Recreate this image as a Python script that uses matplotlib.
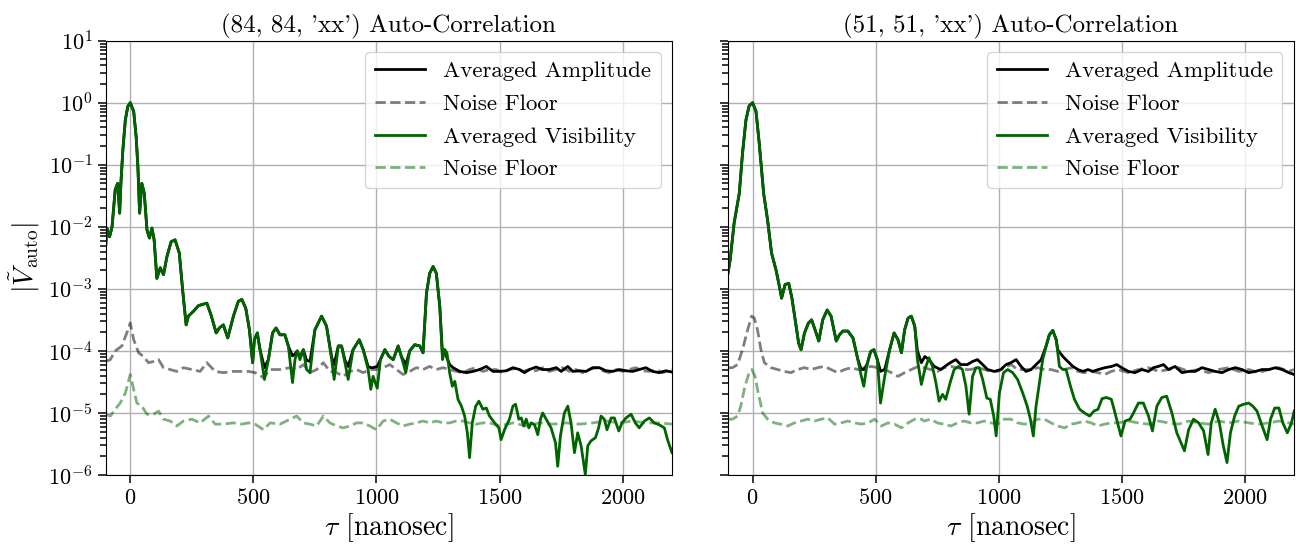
import numpy as np
import matplotlib
matplotlib.use("Agg")
import matplotlib.pyplot as plt
from matplotlib.ticker import FixedLocator, NullFormatter

plt.rcParams['font.family'] = 'cmr10'
plt.rcParams['mathtext.fontset'] = 'cm'
plt.rcParams['axes.formatter.use_mathtext'] = True

# ---- (84, 84, 'xx') : values stored as log10 of |V|
vis_l_tau = np.array([-100, -95, -84, -74, -61, -51, -43, -38, -30, -20, -10, 0, 14, 24, 31, 38, 47, 57, 68, 78,
                      88, 97, 108, 122, 135, 149, 166, 182, 199, 214, 227, 236, 257, 277, 311, 328, 349, 362, 378, 396,
                      419, 439, 453, 469, 484, 497, 504, 516, 527, 545, 561, 578, 592, 608, 628, 642, 659, 669, 678, 689,
                      703, 716, 730, 750, 777, 797, 818, 828, 845, 858, 872, 885, 905, 930, 946, 966, 977, 986, 1003, 1016,
                      1034, 1051, 1068, 1088, 1101, 1119, 1135, 1155, 1176, 1189, 1203, 1216, 1230, 1243, 1257, 1268, 1277, 1286, 1297, 1308,
                      1318, 1331, 1345, 1358, 1369, 1378, 1389, 1403, 1416, 1432, 1446, 1459, 1480, 1497, 1506, 1520, 1540, 1554, 1565, 1578,
                      1588, 1598, 1608, 1619, 1628, 1642, 1655, 1666, 1675, 1689, 1709, 1727, 1736, 1747, 1763, 1777, 1790, 1804, 1817, 1831,
                      1848, 1858, 1871, 1889, 1902, 1912, 1925, 1936, 1953, 1966, 1984, 1997, 2013, 2034, 2051, 2067, 2088, 2108, 2128, 2148,
                      2169, 2182, 2200])
vis_l_log = np.array([-2.32, -2.02, -2.16, -2.0, -1.40, -1.30, -1.78, -1.30, -0.76, -0.28, -0.06, 0.0, -0.14, -0.55, -1.03, -1.78, -1.30, -1.46, -2.05, -2.18,
                      -2.02, -2.21, -2.83, -2.66, -2.77, -2.48, -2.24, -2.21, -2.42, -3.07, -3.58, -3.44, -3.36, -3.27, -3.23, -3.42, -3.71, -3.63, -3.58, -3.79,
                      -3.44, -3.20, -3.17, -3.31, -3.66, -4.19, -3.82, -3.71, -3.98, -4.46, -4.14, -3.71, -3.63, -3.74, -3.74, -3.92, -4.51, -4.14, -4.0, -4.14,
                      -3.98, -4.30, -4.35, -3.66, -3.44, -3.60, -4.14, -4.46, -3.92, -3.92, -4.19, -4.46, -3.98, -3.82, -3.98, -4.30, -4.62, -4.41, -4.60, -4.14,
                      -3.98, -4.09, -4.14, -3.92, -4.09, -4.35, -4.0, -3.90, -3.92, -4.03, -3.07, -2.75, -2.64, -2.75, -3.28, -4.14, -3.98, -4.03, -4.35, -4.57,
                      -4.49, -4.78, -4.89, -5.05, -5.32, -5.72, -5.16, -4.89, -4.81, -4.94, -4.92, -5.05, -5.16, -5.24, -5.43, -5.27, -5.10, -4.89, -4.86, -5.10,
                      -5.08, -5.21, -5.10, -5.24, -5.16, -5.19, -5.35, -5.10, -5.0, -5.10, -5.24, -5.48, -5.86, -5.37, -5.0, -4.89, -5.16, -5.64, -5.32, -5.53,
                      -5.99, -5.53, -5.45, -5.40, -5.24, -5.05, -5.10, -5.27, -5.08, -5.08, -5.29, -5.16, -5.08, -5.02, -5.16, -5.24, -5.13, -5.08, -5.16, -5.19,
                      -5.24, -5.43, -5.64])

amp_l_tail_tau = np.array([545, 561, 578, 592, 608, 628, 642, 659, 669, 678, 689, 703, 716, 730, 750, 777, 797, 818, 828, 845,
                           858, 872, 885, 905, 930, 946, 966, 977, 986, 1003, 1016, 1034, 1051, 1068, 1088, 1101, 1119, 1135, 1155, 1176,
                           1189, 1203, 1216, 1230, 1243, 1257, 1268, 1277, 1284, 1297, 1311, 1338, 1365, 1392, 1419, 1446, 1473, 1500, 1527, 1554,
                           1581, 1601, 1621, 1648, 1675, 1702, 1730, 1750, 1777, 1797, 1824, 1851, 1878, 1905, 1932, 1959, 1986, 2013, 2040, 2067,
                           2094, 2121, 2148, 2175, 2200])
amp_l_tail_log = np.array([-4.27, -4.14, -3.71, -3.63, -3.74, -3.74, -3.92, -4.08, -4.05, -4.0, -4.10, -3.98, -4.15, -4.17, -3.66, -3.44, -3.60, -4.10, -4.22, -3.92,
                           -3.92, -4.15, -4.25, -3.98, -3.82, -3.98, -4.25, -4.27, -4.27, -4.25, -4.14, -3.98, -4.09, -4.14, -3.92, -4.09, -4.22, -4.0, -3.90, -3.92,
                           -4.03, -3.07, -2.75, -2.64, -2.75, -3.28, -4.05, -3.98, -4.09, -4.22, -4.27, -4.33, -4.35, -4.33, -4.30, -4.25, -4.33, -4.33, -4.32, -4.27,
                           -4.30, -4.35, -4.30, -4.26, -4.30, -4.30, -4.27, -4.33, -4.25, -4.33, -4.32, -4.33, -4.27, -4.27, -4.32, -4.33, -4.30, -4.32, -4.33, -4.30,
                           -4.27, -4.33, -4.35, -4.32, -4.34])

noise_amp_l_tau = np.array([-100, -81, -61, -34, -14, 0, 14, 34, 54, 74, 95, 115, 135, 162, 189, 216, 250, 284, 311, 345,
                            378, 419, 453, 480, 507, 541, 568, 608, 649, 676, 703, 730, 757, 784, 811, 838, 865, 892, 919, 946,
                            973, 1000, 1027, 1054, 1081, 1108, 1135, 1162, 1189, 1216, 1243, 1270, 1297, 1324, 1351, 1378, 1405, 1432, 1459, 1486,
                            1513, 1540, 1567, 1594, 1621, 1648, 1675, 1702, 1729, 1756, 1783, 1810, 1837, 1864, 1891, 1918, 1945, 1972, 1999, 2026,
                            2053, 2080, 2107, 2134, 2161, 2188, 2200])
noise_amp_l_log = np.array([-4.17, -4.14, -4.0, -3.92, -3.71, -3.55, -3.82, -4.03, -4.09, -4.19, -4.17, -4.14, -4.27, -4.30, -4.33, -4.27, -4.30, -4.33, -4.19, -4.33,
                            -4.35, -4.33, -4.33, -4.33, -4.35, -4.43, -4.30, -4.30, -4.27, -4.30, -4.22, -4.35, -4.30, -4.19, -4.33, -4.35, -4.41, -4.33, -4.30, -4.35,
                            -4.30, -4.30, -4.27, -4.22, -4.30, -4.38, -4.33, -4.27, -4.30, -4.25, -4.30, -4.27, -4.30, -4.33, -4.35, -4.30, -4.27, -4.33, -4.30, -4.30,
                            -4.35, -4.30, -4.28, -4.33, -4.30, -4.32, -4.27, -4.33, -4.30, -4.27, -4.33, -4.30, -4.35, -4.30, -4.27, -4.32, -4.35, -4.30, -4.33, -4.30,
                            -4.27, -4.32, -4.33, -4.30, -4.35, -4.32, -4.30])

noise_vis_l_tau = np.array([-100, -81, -61, -41, -20, 0, 14, 27, 47, 68, 95, 115, 135, 162, 189, 216, 250, 284, 318, 345,
                            378, 419, 453, 480, 507, 541, 568, 608, 649, 676, 703, 730, 757, 784, 811, 838, 865, 892, 919, 946,
                            973, 1000, 1027, 1054, 1081, 1108, 1135, 1162, 1189, 1216, 1243, 1270, 1297, 1324, 1351, 1378, 1405, 1432, 1459, 1500,
                            1554, 1608, 1662, 1716, 1770, 1824, 1878, 1932, 1986, 2040, 2094, 2148, 2200])
noise_vis_l_log = np.array([-5.02, -5.05, -4.94, -4.84, -4.68, -4.38, -4.62, -4.84, -4.89, -5.02, -5.02, -4.97, -5.10, -5.13, -5.21, -5.13, -5.10, -5.16, -5.05, -5.18,
                            -5.18, -5.16, -5.18, -5.16, -5.18, -5.27, -5.16, -5.18, -5.10, -5.05, -5.16, -5.18, -5.21, -5.05, -5.16, -5.21, -5.24, -5.21, -5.16, -5.16,
                            -5.21, -5.27, -5.13, -5.10, -5.16, -5.21, -5.18, -5.16, -5.13, -5.16, -5.13, -5.16, -5.16, -5.13, -5.13, -5.16, -5.18, -5.16, -5.16, -5.21,
                            -5.16, -5.21, -5.16, -5.18, -5.16, -5.18, -5.16, -5.13, -5.16, -5.13, -5.16, -5.16, -5.18])

# ---- (51, 51, 'xx')
vis_r_tau = np.array([-100, -91, -75, -54, -41, -27, -14, 0, 14, 27, 45, 61, 77, 95, 109, 118, 132, 147, 160, 177,
                      187, 197, 211, 227, 240, 254, 269, 285, 303, 319, 340, 353, 367, 387, 408, 428, 442, 452, 465, 480,
                      493, 507, 520, 537, 557, 575, 591, 605, 618, 632, 645, 659, 670, 686, 700, 717, 731, 745, 758, 772,
                      785, 803, 819, 837, 853, 867, 880, 894, 908, 921, 935, 952, 966, 980, 990, 1003, 1020, 1037, 1057, 1077,
                      1098, 1116, 1129, 1141, 1152, 1166, 1179, 1193, 1206, 1220, 1234, 1247, 1261, 1274, 1292, 1308, 1329, 1349, 1370, 1387,
                      1404, 1420, 1438, 1458, 1473, 1497, 1514, 1534, 1548, 1568, 1588, 1609, 1625, 1643, 1663, 1683, 1704, 1724, 1755, 1772,
                      1792, 1813, 1833, 1851, 1864, 1880, 1897, 1912, 1928, 1942, 1959, 1976, 1996, 2016, 2033, 2050, 2071, 2091, 2105, 2122,
                      2139, 2155, 2173, 2190, 2201])
vis_r_log = np.array([-2.75, -2.53, -1.94, -1.46, -0.82, -0.28, -0.05, 0.0, -0.14, -0.65, -1.46, -1.89, -2.42, -2.69, -2.96, -3.15, -2.93, -2.91, -3.15, -3.60,
                      -3.87, -3.98, -3.71, -3.55, -3.50, -3.66, -3.84, -3.50, -3.34, -3.44, -3.84, -3.74, -3.68, -3.68, -3.79, -4.14, -4.41, -4.57, -4.22, -4.01,
                      -3.98, -4.14, -4.84, -4.41, -3.98, -3.71, -3.82, -4.03, -3.66, -3.47, -3.44, -3.60, -4.14, -4.54, -4.30, -4.11, -4.25, -4.51, -4.81, -4.70,
                      -4.78, -4.51, -4.30, -4.25, -4.30, -4.57, -5.02, -4.41, -4.27, -4.27, -4.46, -4.76, -4.78, -5.05, -5.37, -4.68, -4.35, -4.30, -4.35, -4.46,
                      -4.68, -4.89, -5.10, -5.37, -4.89, -4.51, -4.14, -3.92, -3.74, -3.67, -3.82, -4.25, -4.30, -4.30, -4.57, -4.78, -4.94, -5.0, -5.05, -4.97,
                      -4.94, -4.77, -4.75, -4.78, -5.0, -5.37, -5.13, -5.10, -5.0, -4.84, -4.84, -5.05, -5.29, -4.89, -4.75, -4.73, -5.0, -5.32, -5.61, -5.27,
                      -5.10, -5.16, -5.29, -5.67, -5.16, -4.94, -5.16, -5.51, -5.80, -5.32, -5.05, -4.89, -4.86, -4.84, -4.89, -4.97, -5.21, -5.43, -5.10, -4.92,
                      -4.92, -5.16, -5.32, -5.16, -4.97])

amp_r_tail_tau = np.array([428, 442, 452, 465, 480, 493, 507, 520, 537, 557, 575, 591, 605, 618, 632, 645, 659, 670, 686, 700,
                           717, 738, 765, 792, 812, 826, 846, 873, 894, 914, 935, 955, 982, 1009, 1030, 1050, 1071, 1091, 1111, 1132,
                           1152, 1173, 1193, 1206, 1220, 1234, 1240, 1261, 1281, 1302, 1322, 1343, 1363, 1383, 1405, 1432, 1459, 1480, 1500, 1527,
                           1554, 1582, 1609, 1629, 1649, 1670, 1690, 1717, 1745, 1772, 1799, 1826, 1853, 1880, 1908, 1935, 1962, 1989, 2016, 2044,
                           2071, 2098, 2125, 2152, 2179, 2201])
amp_r_tail_log = np.array([-4.14, -4.30, -4.30, -4.22, -4.01, -3.98, -4.14, -4.33, -4.30, -3.98, -3.71, -3.82, -4.03, -3.66, -3.47, -3.44, -3.60, -4.0, -4.19, -4.09,
                           -4.14, -4.25, -4.30, -4.22, -4.17, -4.14, -4.22, -4.22, -4.17, -4.14, -4.22, -4.30, -4.33, -4.30, -4.22, -4.19, -4.14, -4.25, -4.33, -4.30,
                           -4.22, -4.14, -3.92, -3.74, -3.67, -3.82, -3.98, -4.09, -4.17, -4.25, -4.30, -4.33, -4.30, -4.33, -4.30, -4.27, -4.25, -4.22, -4.27, -4.33,
                           -4.35, -4.30, -4.33, -4.27, -4.25, -4.22, -4.30, -4.25, -4.35, -4.33, -4.33, -4.27, -4.30, -4.33, -4.35, -4.30, -4.27, -4.30, -4.35, -4.33,
                           -4.30, -4.30, -4.27, -4.30, -4.35, -4.38])

noise_amp_r_tau = np.array([-100, -82, -61, -41, -20, -4, 7, 20, 34, 48, 75, 102, 129, 156, 183, 211, 238, 265, 292, 319,
                            346, 374, 401, 428, 455, 482, 510, 537, 564, 591, 618, 645, 673, 697, 724, 751, 778, 806, 833, 860,
                            887, 914, 942, 969, 996, 1023, 1050, 1077, 1105, 1132, 1159, 1186, 1213, 1240, 1268, 1295, 1322, 1349, 1376, 1404,
                            1431, 1458, 1486, 1527, 1568, 1609, 1650, 1690, 1731, 1772, 1812, 1853, 1894, 1935, 1976, 2016, 2057, 2098, 2139, 2179,
                            2200])
noise_amp_r_log = np.array([-4.27, -4.27, -4.22, -3.98, -3.66, -3.44, -3.47, -3.66, -3.98, -4.19, -4.27, -4.30, -4.33, -4.35, -4.30, -4.27, -4.30, -4.27, -4.25, -4.30,
                            -4.35, -4.30, -4.27, -4.30, -4.27, -4.25, -4.27, -4.30, -4.35, -4.41, -4.35, -4.30, -4.25, -4.27, -4.30, -4.33, -4.27, -4.25, -4.27, -4.30,
                            -4.30, -4.27, -4.30, -4.33, -4.33, -4.27, -4.22, -4.30, -4.30, -4.30, -4.27, -4.30, -4.30, -4.33, -4.30, -4.27, -4.33, -4.35, -4.33, -4.35,
                            -4.38, -4.33, -4.30, -4.35, -4.30, -4.27, -4.33, -4.30, -4.27, -4.33, -4.30, -4.35, -4.30, -4.27, -4.33, -4.30, -4.35, -4.30, -4.27, -4.33,
                            -4.30])

noise_vis_r_tau = np.array([-100, -82, -61, -48, -31, -14, -3, 10, 23, 41, 61, 88, 115, 143, 170, 197, 224, 251, 279, 306,
                            333, 360, 387, 414, 442, 469, 496, 523, 550, 577, 605, 632, 659, 686, 697, 724, 751, 778, 806, 833,
                            860, 887, 914, 942, 969, 996, 1023, 1050, 1077, 1105, 1132, 1159, 1186, 1213, 1240, 1268, 1295, 1322, 1349, 1376,
                            1404, 1431, 1458, 1486, 1527, 1568, 1609, 1650, 1690, 1731, 1772, 1812, 1853, 1894, 1935, 1976, 2016, 2057, 2098, 2139,
                            2179, 2200])
noise_vis_r_log = np.array([-5.10, -5.10, -5.05, -4.89, -4.57, -4.35, -4.30, -4.41, -4.68, -5.0, -5.10, -5.16, -5.18, -5.21, -5.16, -5.13, -5.10, -5.13, -5.10, -5.08,
                            -5.18, -5.16, -5.13, -5.16, -5.18, -5.16, -5.10, -5.21, -5.16, -5.18, -5.24, -5.16, -5.10, -5.10, -5.13, -5.10, -5.16, -5.18, -5.21, -5.16,
                            -5.13, -5.16, -5.16, -5.13, -5.16, -5.18, -5.10, -5.10, -5.16, -5.18, -5.16, -5.10, -5.10, -5.16, -5.21, -5.24, -5.18, -5.16, -5.13, -5.16,
                            -5.21, -5.18, -5.16, -5.16, -5.13, -5.16, -5.18, -5.13, -5.16, -5.18, -5.13, -5.16, -5.18, -5.13, -5.16, -5.13, -5.16, -5.18, -5.16, -5.13,
                            -5.16, -5.18])

titles = ["(84, 84, 'xx') Auto-Correlation", "(51, 51, 'xx') Auto-Correlation"]

# black amplitude = visibility up to where it meets the floor, then its own tail
amp_l_tau = np.r_[vis_l_tau[vis_l_tau < 540], amp_l_tail_tau]
amp_l_log = np.r_[vis_l_log[vis_l_tau < 540], amp_l_tail_log]
amp_r_tau = np.r_[vis_r_tau[vis_r_tau < 420], amp_r_tail_tau]
amp_r_log = np.r_[vis_r_log[vis_r_tau < 420], amp_r_tail_log]

panels = [
    (amp_l_tau, amp_l_log, noise_amp_l_tau, noise_amp_l_log, vis_l_tau, vis_l_log, noise_vis_l_tau, noise_vis_l_log),
    (amp_r_tau, amp_r_log, noise_amp_r_tau, noise_amp_r_log, vis_r_tau, vis_r_log, noise_vis_r_tau, noise_vis_r_log),
]

fig = plt.figure(figsize=(12.96, 5.46), dpi=100)
ax1 = fig.add_axes([0.0815, 0.13, 0.437, 0.7955])
ax2 = fig.add_axes([0.5617, 0.13, 0.4367, 0.7955], sharey=ax1)

for ax, p, title in zip([ax1, ax2], panels, titles):
    at, al, nat, nal, vt, vl, nvt, nvl = p
    ax.plot(at, 10**al, color='k', lw=2, label='Averaged Amplitude')
    ax.plot(nat, 10**nal, color='k', alpha=0.5, ls='--', lw=2, label='Noise Floor')
    ax.plot(vt, 10**vl, color='darkgreen', lw=2, label='Averaged Visibility')
    ax.plot(nvt, 10**nvl, color='darkgreen', alpha=0.5, ls='--', lw=2, label='Noise Floor')
    ax.set_yscale('log')
    ax.set_xlim(-100, 2200)
    ax.grid(True, which='major', color='#b0b0b0', lw=1)
    ax.set_title(title, fontsize=18)
    ax.set_xlabel(r'$\tau$ [nanosec]', fontsize=20, labelpad=2)
    ax.set_xticks([0, 500, 1000, 1500, 2000])
    ax.tick_params(labelsize=16)
    ax.legend(loc='upper right', fontsize=16.5, labelspacing=0.55, handlelength=2.2)

# shared log axis: minor ticks at 2..9 x 10^k
ax1.set_ylim(1e-6, 1e1)
minor_pos = [m * 10.0**k for k in range(-6, 1) for m in range(2, 10)]
ax1.yaxis.set_minor_locator(FixedLocator(minor_pos))
ax1.yaxis.set_minor_formatter(NullFormatter())
for ax in (ax1, ax2):
    ax.tick_params(axis='y', which='minor', length=4, width=1.1)
    ax.tick_params(axis='both', which='major', length=6, width=1.1)

ax1.set_ylabel(r'$|\tilde{V}_{\rm auto}|$', fontsize=20)
plt.setp(ax2.get_yticklabels(), visible=False)

plt.savefig('out.png', dpi=100)
